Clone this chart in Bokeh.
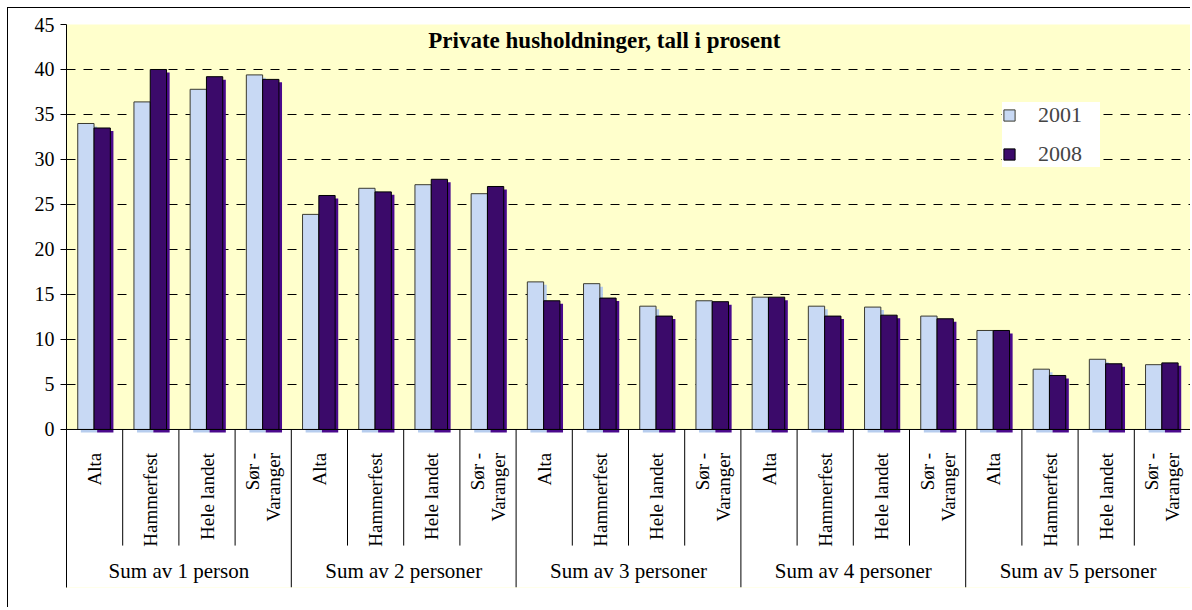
import numpy as np
from bokeh.plotting import figure
from bokeh.models import (ColumnDataSource, Range1d, FixedTicker, Span, BoxAnnotation,
                          Label, Legend, LegendItem)
from bokeh.core.properties import value
from bokeh.embed import file_html
from bokeh.resources import INLINE

# ---------------- data ----------------
groups = ["Sum av 1 person", "Sum av 2 personer", "Sum av 3 personer",
          "Sum av 4 personer", "Sum av 5 personer"]
places = ["Alta", "Hammerfest", "Hele landet", "Sør -\nVaranger"]
series = ["2001", "2008"]
v2001 = [34.0, 36.4, 37.8, 39.4,
         23.9, 26.8, 27.2, 26.2,
         16.4, 16.2, 13.7, 14.3,
         14.7, 13.7, 13.6, 12.6,
         11.0, 6.7, 7.8, 7.2]
v2008 = [33.5, 40.0, 39.2, 38.9,
         26.0, 26.4, 27.8, 27.0,
         14.3, 14.6, 12.6, 14.2,
         14.7, 12.6, 12.7, 12.3,
         11.0, 6.0, 7.3, 7.4]
yticks = [0, 5, 10, 15, 20, 25, 30, 35, 40, 45]
title = "Private husholdninger, tall i prosent"

# ---------------- styles ----------------
FONT = "Liberation Serif"
C2001, C2001_SH = "#c8d9f4", "#b7cdee"
C2008, C2008_SH = "#3b0a6a", "#4a0a8c"
YELLOW = "#ffffcc"
BAR_W = 0.29
SH_DX, SH_DY = 0.055, 0.33
Y_MIN = -17.56
SUB_SEP = -12.9
SUBLABEL_Y = -2.6
GROUPLABEL_Y = -15.7

n_sub = len(places)
n = len(groups) * n_sub
xc = np.arange(n) + 0.5
x1 = xc - 0.155
x2 = xc + 0.135
zeros = np.zeros(n)

src = ColumnDataSource(dict(x1=x1, x2=x2, v1=v2001, v2=v2008,
                            x1s=x1 + SH_DX, x2s=x2 + SH_DX,
                            v1s=np.array(v2001) - SH_DY, v2s=np.array(v2008) - SH_DY,
                            bs=zeros - SH_DY))

p = figure(frame_width=1124, frame_height=563, output_backend="svg", toolbar_location=None,
           x_range=Range1d(0, n), y_range=Range1d(Y_MIN, 45),
           min_border_left=58, min_border_right=0, min_border_top=16, min_border_bottom=20)
p.styles = {"margin-left": "7px", "margin-top": "7px",
            "border-left": "1px solid black", "border-top": "1px solid black"}
p.background_fill_color = YELLOW
p.border_fill_color = "white"
p.outline_line_color = None
p.xaxis.visible = False
p.xgrid.visible = False

# y axis
p.yaxis.ticker = FixedTicker(ticks=yticks)
p.yaxis.major_label_text_font = FONT
p.yaxis.major_label_text_font_size = "20px"
p.yaxis.major_label_text_color = "black"
p.yaxis.axis_line_color = "black"
p.yaxis.major_tick_line_color = "black"
p.yaxis.major_tick_out = 6
p.yaxis.major_tick_in = 0
p.yaxis.minor_tick_line_color = None
p.yaxis.major_label_standoff = 6

p.ygrid.ticker = FixedTicker(ticks=yticks)
p.ygrid.grid_line_color = "black"
p.ygrid.grid_line_dash = "9 8"
p.ygrid.grid_line_width = 1

# white area for category labels
p.add_layout(BoxAnnotation(top=0, fill_color="white", fill_alpha=1.0,
                           line_color=None, level="underlay"))

# shadows + bars
p.vbar(x="x1s", top="v1s", bottom="bs", width=BAR_W, source=src,
       fill_color=C2001_SH, line_color=None)
r1 = p.vbar(x="x1", top="v1", bottom=0, width=BAR_W, source=src,
            fill_color=C2001, line_color="#3a3a30", line_width=1)
p.vbar(x="x2s", top="v2s", bottom="bs", width=BAR_W, source=src,
       fill_color=C2008_SH, line_color=None)
r2 = p.vbar(x="x2", top="v2", bottom=0, width=BAR_W, source=src,
            fill_color=C2008, line_color="black", line_width=1)

# category axis line
p.add_layout(Span(location=0, dimension="width", line_color="black", line_width=1))

# separators
bounds = np.arange(1, n + 1)
is_group = (bounds % n_sub) == 0
p.segment(x0=bounds[~is_group], x1=bounds[~is_group], y0=0, y1=SUB_SEP,
          line_color="black", line_width=1)
p.segment(x0=bounds[is_group], x1=bounds[is_group], y0=0, y1=Y_MIN,
          line_color="black", line_width=1)

# sub-category labels
sub_labels = places * len(groups)
p.text(x=xc, y=[SUBLABEL_Y] * n, text=sub_labels, angle=np.pi / 2,
       text_align="right", text_baseline="middle", text_font=value(FONT),
       text_font_size="19px", text_color="black", text_line_height=1.0)

# group labels
gx = np.arange(len(groups)) * n_sub + n_sub / 2
p.text(x=gx, y=[GROUPLABEL_Y] * len(groups), text=groups,
       text_align="center", text_baseline="middle", text_font=value(FONT),
       text_font_size="21px", text_color="black")

# title inside plot area
p.add_layout(Label(x=9.57, y=43.2, text=title, text_align="center",
                   text_baseline="middle", text_font=FONT, text_font_style="bold",
                   text_font_size="23px", text_color="black"))

legend = Legend(items=[LegendItem(label=series[0], renderers=[r1]),
                       LegendItem(label=series[1], renderers=[r2])],
                location=(936, 420), padding=8, spacing=13,
                glyph_width=14, glyph_height=14, label_standoff=22,
                label_width=62, label_height=20,
                label_text_font=FONT, label_text_font_size="22px",
                border_line_color=None, background_fill_color="white",
                background_fill_alpha=1.0)
p.add_layout(legend)

open("out.html", "w").write(file_html(p, INLINE))
